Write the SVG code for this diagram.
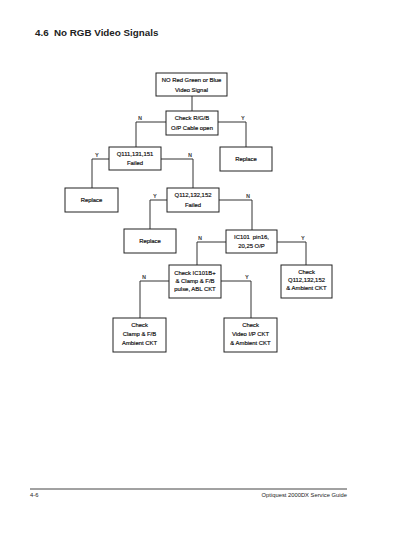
<svg xmlns="http://www.w3.org/2000/svg" width="400" height="535" viewBox="0 0 400 535">
<style>
.box{fill:#fff;stroke:#222;stroke-width:1}
.t{font-family:"Liberation Sans",Arial,sans-serif;font-size:5.9px;fill:#111;stroke:#111;stroke-width:0.18;text-anchor:middle}
.lbl{font-family:"Liberation Sans",Arial,sans-serif;font-size:5px;fill:#111;stroke:#111;stroke-width:0.15;text-anchor:middle}
.c{fill:none;stroke:#333;stroke-width:1}
</style>
<rect width="400" height="535" fill="#fff"/>
<text x="35" y="36" font-family="Liberation Sans,Arial,sans-serif" font-size="9.8" font-weight="bold" fill="#222">4.6<tspan x="54">No RGB Video Signals</tspan></text>

<g id="connectors">
<path class="c" d="M192,96V111"/>
<path class="c" d="M166,122H136V147"/>
<path class="c" d="M218,122H246V147"/>
<path class="c" d="M109,159H92V188"/>
<path class="c" d="M161,159H193V188"/>
<path class="c" d="M167,200H150V229"/>
<path class="c" d="M219,200H252V230"/>
<path class="c" d="M226,242H197V265"/>
<path class="c" d="M277,242H306V265"/>
<path class="c" d="M169,281H140V318"/>
<path class="c" d="M221,281H251V318"/>
<text class="lbl" x="140" y="120">N</text>
<text class="lbl" x="243" y="120">Y</text>
<text class="lbl" x="97" y="157">Y</text>
<text class="lbl" x="190" y="157">N</text>
<text class="lbl" x="155" y="198">Y</text>
<text class="lbl" x="248" y="198">N</text>
<text class="lbl" x="200" y="240">N</text>
<text class="lbl" x="303" y="240">Y</text>
<text class="lbl" x="144" y="279">N</text>
<text class="lbl" x="247" y="279">Y</text>
</g>

<g id="n1"><rect class="box" x="156" y="73" width="71" height="23"/>
<text class="t" x="191.5" y="82">NO Red Green or Blue</text><text class="t" x="191.5" y="91.5">Video Signal</text></g>

<g id="n2"><rect class="box" x="166" y="111" width="52" height="24"/>
<text class="t" x="192" y="120">Check R/G/B</text><text class="t" x="192" y="130">O/P Cable open</text></g>

<g id="n3"><rect class="box" x="109" y="147" width="52" height="23"/>
<text class="t" x="135" y="155.5">Q111,131,151</text><text class="t" x="135" y="165">Failed</text></g>

<g id="n4"><rect class="box" x="220" y="147" width="52" height="24"/>
<text class="t" x="246" y="161">Replace</text></g>

<g id="n5"><rect class="box" x="65" y="188" width="53" height="24"/>
<text class="t" x="91.5" y="202">Replace</text></g>

<g id="n6"><rect class="box" x="167" y="188" width="52" height="24"/>
<text class="t" x="193" y="197">Q112,132,152</text><text class="t" x="193" y="206.5">Failed</text></g>

<g id="n7"><rect class="box" x="124" y="229" width="52" height="24"/>
<text class="t" x="150" y="243">Replace</text></g>

<g id="n8"><rect class="box" x="226" y="230" width="51" height="23"/>
<text class="t" x="251.5" y="239"><tspan>IC101</tspan><tspan dx="3">pin16,</tspan></text><text class="t" x="251.5" y="247.5">20,25 O/P</text></g>

<g id="n9"><rect class="box" x="169" y="265" width="52" height="33"/>
<text class="t" x="195" y="274.5">Check IC101B+</text><text class="t" x="195" y="282.5">&amp; Clamp &amp; F/B</text><text class="t" x="195" y="290.5">pulse, ABL CKT</text></g>

<g id="n10"><rect class="box" x="281" y="265" width="51" height="33"/>
<text class="t" x="306.5" y="274">Check</text><text class="t" x="306.5" y="282">Q112,132,152</text><text class="t" x="306.5" y="290">&amp; Ambient CKT</text></g>

<g id="n11"><rect class="box" x="113" y="318" width="53" height="34"/>
<text class="t" x="139.5" y="327">Check</text><text class="t" x="139.5" y="336">Clamp &amp; F/B</text><text class="t" x="139.5" y="345">Ambient CKT</text></g>

<g id="n12"><rect class="box" x="224" y="318" width="53" height="34"/>
<text class="t" x="250.5" y="327">Check</text><text class="t" x="250.5" y="336">Video I/P CKT</text><text class="t" x="250.5" y="345">&amp; Ambient CKT</text></g>

<line x1="30" y1="489" x2="347" y2="489" stroke="#444" stroke-width="1"/>
<text x="30" y="497" font-family="Liberation Sans,Arial,sans-serif" font-size="5.8" fill="#222">4-6</text>
<text x="347" y="497" font-family="Liberation Sans,Arial,sans-serif" font-size="5.8" fill="#222" text-anchor="end">Optiquest 2000DX Service Guide</text>
</svg>
